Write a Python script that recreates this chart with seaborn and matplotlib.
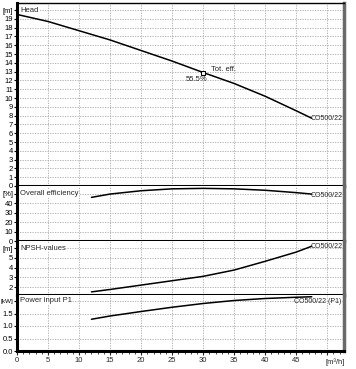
import matplotlib
matplotlib.use("Agg")
import matplotlib.pyplot as plt
from matplotlib.ticker import MultipleLocator
import seaborn as sns
import pandas as pd

# data
head_flow = [0, 5, 10, 15, 20, 25, 30, 35, 40, 45, 47.5]
head = [19.5, 18.7, 17.65, 16.6, 15.4, 14.2, 12.9, 11.65, 10.2, 8.55, 7.7]

flow = [12, 15, 20, 25, 30, 35, 40, 45, 47.5]
efficiency = [46, 49.5, 53, 55, 55.5, 55, 53.5, 51, 49.5]
npsh = [1.5, 1.75, 2.2, 2.65, 3.1, 3.75, 4.65, 5.6, 6.2]
power = [1.27, 1.4, 1.58, 1.75, 1.9, 2.02, 2.1, 2.15, 2.17]

pump_name = "CO500/22"
duty_flow = 30
duty_head = 12.9
duty_eff = "55.5%"

x_ticks = [0, 5, 10, 15, 20, 25, 30, 35, 40, 45]
x_unit = "[m\u00b3/h]"

FS = 5.5
FS_SMALL = 5

sns.set_style("white")
plt.rcParams['font.family'] = ['Liberation Sans', 'DejaVu Sans']
plt.rcParams['font.size'] = FS

fig = plt.figure(figsize=(3.56, 3.69), dpi=100)
L, W = 17 / 356, 327 / 356
H = 369
# (top px, bottom px) of each panel
rows = [(3, 186), (186, 241), (241, 295), (295, 351)]
axes = []
for top, bot in rows:
    ax = fig.add_axes([L, 1 - bot / H, W, (bot - top) / H])
    axes.append(ax)
ax_h, ax_e, ax_n, ax_p = axes

head_df = pd.DataFrame({"flow": head_flow, "head": head})
curve_df = pd.DataFrame({"flow": flow, "eff": efficiency, "npsh": npsh, "power": power})

sns.lineplot(data=head_df, x="flow", y="head", ax=ax_h, color="black", lw=1.1)
sns.lineplot(data=curve_df, x="flow", y="eff", ax=ax_e, color="black", lw=1.1)
sns.lineplot(data=curve_df, x="flow", y="npsh", ax=ax_n, color="black", lw=1.1)
sns.lineplot(data=curve_df, x="flow", y="power", ax=ax_p, color="black", lw=1.1)

# y setup: ticks, with the unit label in place of the top tick
ax_h.set_ylim(0, 20.8)
ax_h.set_yticks(range(0, 21))
ax_h.set_yticklabels([str(i) for i in range(20)] + ["[m]"])

ax_e.set_ylim(0, 58)
ax_e.set_yticks(range(0, 60, 10))
ax_e.set_yticklabels(["0", "10", "20", "30", "40", "[%]"])

ax_n.set_ylim(1.18, 6.74)
ax_n.set_yticks([2, 3, 4, 5, 6])
ax_n.set_yticklabels(["2", "3", "4", "5", "[m]"])

ax_p.set_ylim(0, 2.24)
ax_p.set_yticks([0, 0.5, 1.0, 1.5, 2.0])
ax_p.set_yticklabels(["0.0", "0.5", "1.0", "1.5", "[kW]"])

titles = ["Head", "Overall efficiency", "NPSH-values", "Power input P1"]
title_y = [20, 50, 6, 2.0]

for ax, t, ty in zip(axes, titles, title_y):
    ax.set_xlim(0, 52.7)
    ax.set_xticks(list(range(0, 55, 5)))
    ax.xaxis.set_minor_locator(MultipleLocator(1))
    ax.grid(True, which="major", color="#a8a8a8", linestyle=(0, (1.5, 1.5)), lw=0.6)
    ax.set_xlabel("")
    ax.set_ylabel("")
    ax.tick_params(axis="y", which="major", left=True, length=2.5, width=0.8, pad=0.3,
                   labelsize=FS, colors="black")
    ax.tick_params(axis="x", which="both", bottom=False, labelbottom=False)
    ax.text(0.5, ty, t, ha="left", va="center", fontsize=FS,
            bbox=dict(facecolor="white", edgecolor="none", pad=0.3))
    for s in ["left", "bottom"]:
        ax.spines[s].set_color("black")
        ax.spines[s].set_linewidth(2.2)
    ax.spines["top"].set_visible(False)
    ax.spines["right"].set_color("#6a6a6a")
    ax.spines["right"].set_linewidth(2.5)

ax_h.spines["top"].set_visible(True)
ax_h.spines["top"].set_color("black")
ax_h.spines["top"].set_linewidth(1)

# the kW unit is too wide for the margin at full size
ax_p.get_yticklabels()[-1].set_fontsize(4.6)

# bottom axis
ax_p.tick_params(axis="x", which="major", bottom=True, labelbottom=True, length=3,
                 width=0.8, pad=1.5, labelsize=FS)
ax_p.tick_params(axis="x", which="minor", bottom=True, length=2, width=0.6)
ax_p.set_xticklabels([str(v) for v in x_ticks] + [""])
ax_p.annotate(x_unit, xy=(51.3, 0), xycoords=("data", "axes fraction"),
              xytext=(0, -5.3), textcoords="offset points", ha="center", va="top", fontsize=FS)

# duty point on head curve
ax_h.plot([duty_flow], [duty_head], marker="s", ms=3.5, mfc="white", mec="black", mew=0.8)
ax_h.text(31.3, 13.25, "Tot. eff.", ha="left", va="center", fontsize=FS)
ax_h.text(28.9, 12.05, duty_eff, ha="center", va="center", fontsize=FS)

# curve end labels
ax_h.text(head_flow[-1] - 0.2, head[-1], pump_name, ha="left", va="center", fontsize=FS_SMALL)
ax_e.text(flow[-1] - 0.2, efficiency[-1] - 1, pump_name, ha="left", va="center", fontsize=FS_SMALL)
ax_n.text(flow[-1] - 0.2, npsh[-1], pump_name, ha="left", va="center", fontsize=FS_SMALL)
ax_p.text(52.3, 1.97, pump_name + " (P1)", ha="right", va="center", fontsize=FS_SMALL)

fig.savefig("out.png", dpi=100)
